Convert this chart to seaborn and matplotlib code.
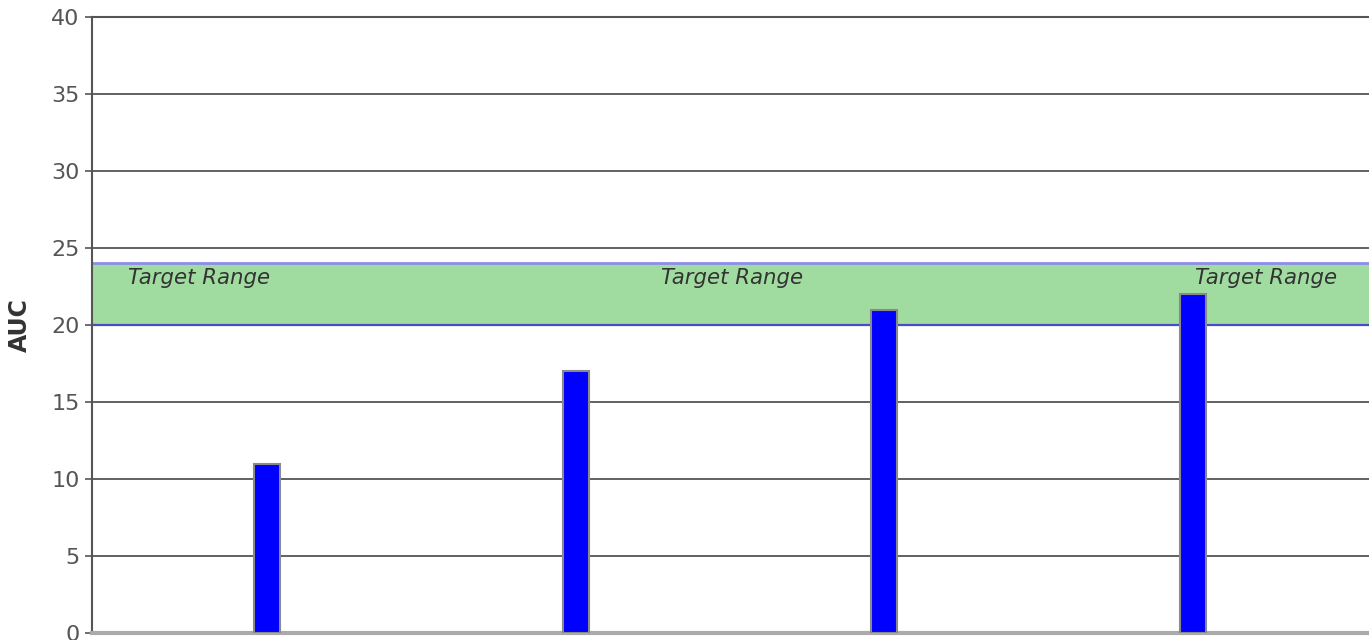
import matplotlib
matplotlib.use("Agg")
import matplotlib.pyplot as plt
import matplotlib.transforms as mtransforms
import pandas as pd
import seaborn as sns

# data
samples = ["S1", "S2", "S3", "S4"]
auc_values = [11, 17, 21, 22]
target_low = 20
target_high = 24
y_ticks = [0, 5, 10, 15, 20, 25, 30, 35, 40]

df = pd.DataFrame({"Sample": samples, "AUC": auc_values})

sns.set_style("white")
plt.rcParams["font.family"] = ["DejaVu Sans"]

fig = plt.figure(figsize=(13.69, 6.4), dpi=100)
ax = fig.add_axes([92 / 1369, 7 / 640, 1 - 92 / 1369 + 0.002, 616 / 640])

# target band
ax.axhspan(target_low, target_high, color="#a0dca0", zorder=1, lw=0)
ax.axhline(target_high, color="#8c8cea", lw=2, zorder=2)
ax.axhline(target_low, color="#4a4ac8", lw=1.6, zorder=2)

# grid lines
for t in y_ticks[1:]:
    if t == target_low:
        continue
    ax.axhline(t, color="#555555", lw=1.3, zorder=1.5)

sns.barplot(data=df, x="Sample", y="AUC", color="#0000ff", saturation=1,
            width=0.084, edgecolor="#8a8a8a", linewidth=1.5, ax=ax, zorder=3)

ax.set_xlim(-0.568, 3.58)
ax.set_ylim(0, 40)
ax.set_yticks(y_ticks)
ax.tick_params(axis="y", labelsize=16, labelcolor="#555555", length=5,
               width=1.2, color="#555555", pad=4, left=True)
ax.tick_params(axis="x", bottom=False, labelbottom=False)
ax.set_xlabel("")
ax.set_ylabel("AUC", fontsize=17, fontweight="bold", color="#333333", labelpad=14)

for side in ["top", "left"]:
    ax.spines[side].set_color("#555555")
    ax.spines[side].set_linewidth(1.5)
ax.spines["right"].set_visible(False)
ax.spines["bottom"].set_color("#aaaaaa")
ax.spines["bottom"].set_linewidth(3)

trans = mtransforms.blended_transform_factory(ax.transAxes, ax.transData)
label_kw = dict(fontsize=15.3, style="italic", color="#333333", va="center",
                transform=trans, zorder=4)
ax.text(0.028, 23.05, "Target Range", ha="left", **label_kw)
ax.text(0.5, 23.05, "Target Range", ha="center", **label_kw)
ax.text(0.9726, 23.05, "Target Range", ha="right", **label_kw)

fig.savefig("out.png", dpi=100)
